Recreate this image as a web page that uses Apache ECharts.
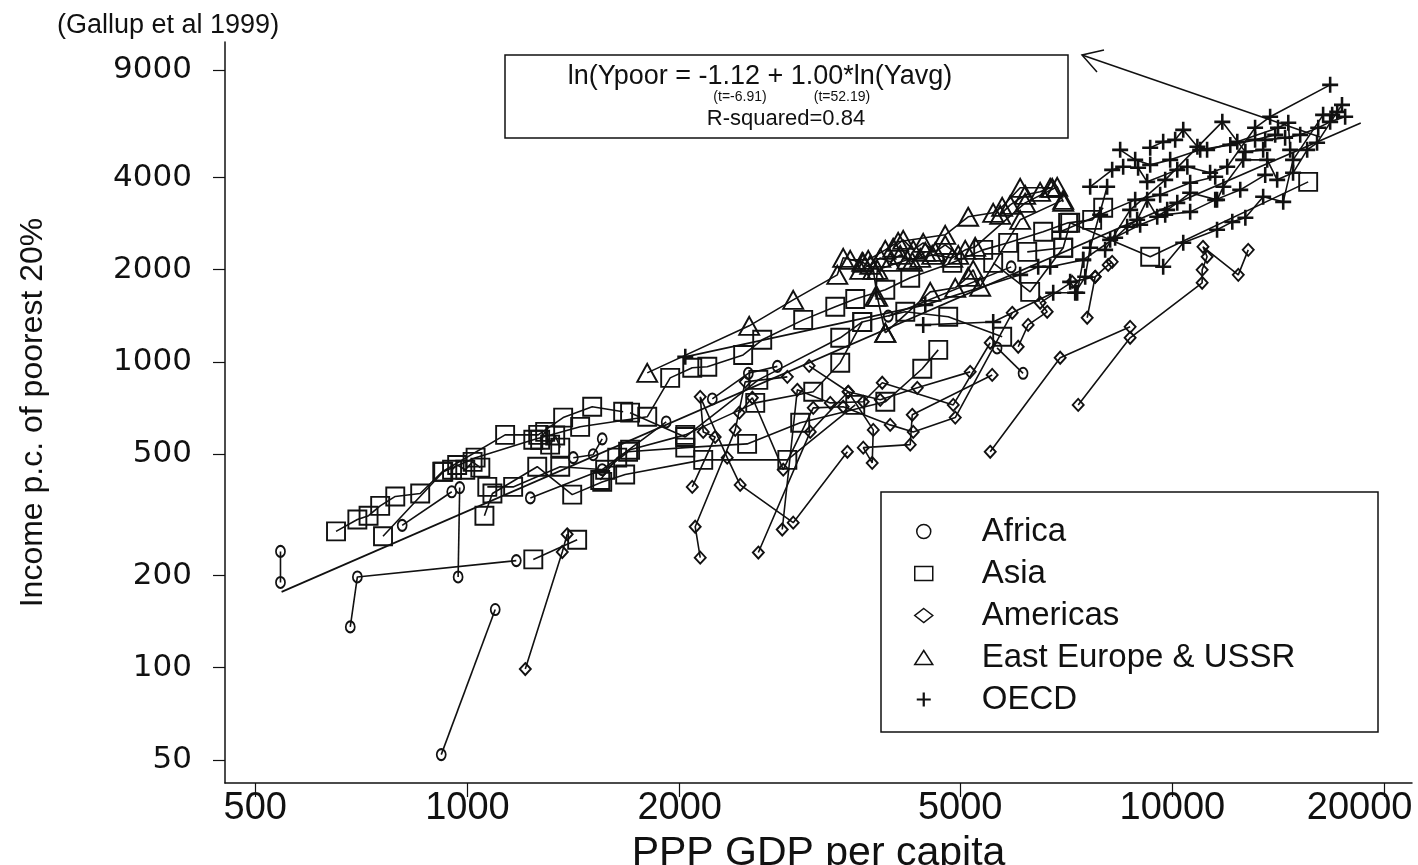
<!DOCTYPE html>
<html>
<head>
<meta charset="utf-8">
<script src="https://cdn.jsdelivr.net/npm/echarts@6.0.0/dist/echarts.min.js"></script>
<style>
  html, body { margin: 0; padding: 0; background: #fff; }
  #chart { width: 1418px; height: 865px; }
</style>
</head>
<body>
<div id="chart"></div>
<script>
// axis ticks
const xTicks = [500, 1000, 2000, 5000, 10000, 20000];
const yTicks = [50, 100, 200, 500, 1000, 2000, 4000, 9000];

// each inner array = one country's path over time [GDP pc, income of poorest 20%]
const africa = [
  [[543,240],[543,190]],
  [[682,136],[698,198],[1173,224]],
  [[970,198],[975,388]],
  [[918,52],[1095,155]],
  [[808,292],[950,376]],
  [[1228,359],[1553,444],[1914,636]],
  [[1413,486],[1508,497],[1553,560]],
  [[2225,756],[2503,917],[2752,966]],
  [[3953,1410],[5906,2043]],
  [[5640,1110],[6140,917]]
];

const asia = [
  [[651,279],[698,305],[724,314],[752,338],[790,363],[857,371],[921,437],[1131,577],[1260,577],[1367,657],[1503,713],[1663,687]],
  [[759,269],[924,437],[1027,486],[1240,556],[1445,613],[1799,661],[1939,886],[2084,956],[2189,963],[2461,1053],[2619,1180],[2994,1371],[3325,1513],[3549,1604],[3915,1719],[4247,1882],[4872,2106],[5390,2322],[5848,2448],[6556,2660],[7113,2846],[7694,2911],[7976,3187]],
  [[1057,314],[1085,371],[1256,454],[1408,368],[1553,405],[1674,428],[2160,478],[2843,478],[3549,723]],
  [[1067,390],[1161,390],[1354,454],[1568,444],[1690,508],[2037,524],[2493,539],[2965,632],[3915,740],[4417,949],[4654,1094]],
  [[1240,226],[1431,262]],
  [[1543,411],[1631,486],[1701,516],[2037,577],[2560,734],[3094,798],[3379,993],[3631,1350],[4179,1457],[4808,1404],[5735,1207]],
  [[1701,682],[2037,568],[2586,873],[3379,1198],[3631,1350]],
  [[6224,2287],[7000,2359],[7161,2847],[9300,2204],[15580,3874]],
  [[5569,2106],[6284,1693],[7000,2359]],
  [[951,444],[967,460],[993,444],[1017,471],[1043,451]],
  [[1268,556],[1289,590],[1310,536],[1332,574],[1354,524]]
];

const americas = [
  [[1208,99],[1363,239],[1385,273]],
  [[2139,229],[2104,289],[2398,599],[2477,860],[2843,893]],
  [[2084,390],[2246,568],[2160,590],[2139,768],[2336,486],[2437,396],[2898,298],[3459,508]],
  [[2586,238],[3064,590],[3468,798],[3851,751],[4346,822],[5166,927]],
  [[2796,283],[2937,810],[3271,734],[3643,740],[3876,854],[4888,723],[5515,1154]],
  [[2430,682],[2536,763],[2805,444],[3094,707],[3412,713],[3978,622],[4289,590],[4920,657],[5926,1446]],
  [[3053,970],[3468,798],[3764,599],[3751,467],[3643,524],[4247,536],[4275,671],[5551,906]],
  [[5515,508],[6931,1031],[8710,1301]],
  [[7351,723],[8710,1198],[11020,1812],[11020,1998],[11200,2204],[11050,2376],[12400,1924],[12810,2322]],
  [[6043,1120],[6242,1320],[6643,1457],[6492,1559],[7208,1825],[7770,1896],[8107,2074],[8214,2122]],
  [[7570,1393],[7770,1896]]
];

const eastEurope = [
  [[1799,920],[2510,1311],[2898,1594],[3347,1924],[3412,2187],[3643,2106]],
  [[3491,2154],[3703,2154],[3915,2322],[4083,2467],[4761,2601],[5132,2979],[5569,3069],[5735,3211],[6082,3705],[6753,3705]],
  [[3789,1631],[3814,1998],[4206,2154],[4388,2186],[4564,2236],[4872,2186],[5083,2322],[5251,2376],[6182,3308],[6864,3733],[7000,3333]],
  [[3915,1244],[4534,1693],[4920,1745],[5132,1896],[5217,1998],[5337,1759],[6082,2911],[7000,3383]],
  [[3631,2122],[3764,1998],[3814,1631],[3915,1244]],
  [[4017,2359],[4151,2504],[4289,2322],[4431,2449],[4609,2287],[4761,2412],[4968,2236]],
  [[3607,1998],[3727,2074],[3851,2186],[3978,2122],[4111,2236],[4275,2122],[4461,2287]],
  [[5698,3023],[5887,3257],[6182,3513],[6492,3594],[6709,3705]]
];

const oecd = [
  [[2037,1038],[4461,1535],[6082,1924],[6451,2044],[6709,2044],[7472,2154]],
  [[4431,1320],[5569,1350],[6775,1681],[7279,1681],[7521,1896],[7644,2359],[8080,3733]],
  [[7161,1825],[7327,1681],[7472,2154],[8294,2544],[8627,2762],[8912,2911],[9209,3383],[9516,2979],[9831,3138],[10160,3308],[10597,3568],[11570,3383],[11810,3733],[12600,4572],[13630,4572],[14080,3933],[14830,4147],[15530,4929],[16040,5197],[17130,6560],[17400,6915]],
  [[7644,3733],[8214,4240],[8514,4339],[8940,4307],[9209,3874],[10160,4240],[10500,4339],[11310,4147],[11960,4339],[13100,5820],[13760,6322],[16740,8040]],
  [[9300,5006],[9703,5235],[10090,5314],[10360,5730],[10850,5043],[11200,4929],[12360,5235],[14120,5820],[14600,6042],[14690,4929]],
  [[9703,2044],[10360,2449],[11570,2700],[12160,2867],[12690,2956],[13450,3462],[14360,3333],[14830,4572],[16360,6414],[16850,6414]],
  [[8027,2322],[8710,3138],[9767,3933],[11770,6086],[12690,4855],[13450,4929]],
  [[13540,5314],[14450,5396],[15180,5518],[16100,5820],[16740,6086],[17580,6322]],
  [[6931,2660],[7898,3023],[8855,3383],[9608,3513],[10597,3846],[11500,4024]],
  [[8160,2504],[9000,2804],[9767,3023],[10597,3091],[11500,3383],[12480,3648],[13540,4083]],
  [[8431,4929],[8855,4572],[9300,4403],[9927,4572],[10950,4929],[12080,5117],[13100,5314],[13990,5518]]
];

// fitted regression ln(Ypoor) = -1.12 + 1.00 ln(Yavg), end points
const fitLine = [[545,177],[18500,6030]];

const PLUS = 'path://M4.2,0H5.8V4.2H10V5.8H5.8V10H4.2V5.8H0V4.2H4.2Z';
const FONT = '"Liberation Sans", Arial, Helvetica, sans-serif';

const REGIONS = [
  { name: 'Africa',             paths: africa,     symbol: 'circle',   size: [9, 11],  icon: 'circle',   fill: 'transparent' },
  { name: 'Asia',               paths: asia,       symbol: 'rect',     size: 18,       icon: 'rect',     fill: 'transparent' },
  { name: 'Americas',           paths: americas,   symbol: 'diamond',  size: [11, 12], icon: 'diamond',  fill: 'transparent' },
  { name: 'East Europe & USSR', paths: eastEurope, symbol: 'triangle', size: [20, 18], icon: 'triangle', fill: 'transparent' },
  { name: 'OECD',               paths: oecd,       symbol: PLUS,       size: 16,       icon: PLUS,       fill: '#111' }
];

const series = [];
for (const r of REGIONS) {
  for (const p of r.paths) {
    series.push({
      type: 'line', name: r.name, data: p,
      symbol: r.symbol, symbolSize: r.size, showSymbol: true,
      lineStyle: { color: '#111', width: 1.6 },
      itemStyle: {
        color: r.fill, borderColor: '#111',
        borderWidth: r.fill === 'transparent' ? 1.9 : 0
      },
      emphasis: { disabled: true }, silent: true, z: 3
    });
  }
}
series.push({
  type: 'line', name: 'fit', data: fitLine, symbol: 'none',
  lineStyle: { color: '#111', width: 1.7 }, silent: true, z: 2
});

const chart = echarts.init(document.getElementById('chart'));
chart.setOption({
  animation: false,
  backgroundColor: '#fff',
  grid: { left: 225, right: 6, top: 42, bottom: 82, outerBoundsMode: 'none', containLabel: false },
  xAxis: {
    type: 'log', logBase: 10, min: 453, max: 21870,
    axisLine: { lineStyle: { color: '#111', width: 1.5 } },
    axisTick: { show: true, customValues: xTicks, length: 14, lineStyle: { color: '#111', width: 1.2 } },
    axisLabel: {
      customValues: xTicks,
      // last label pushed left so it stays inside the picture, as in the original
      formatter: v => Math.round(v) === 20000 ? '{last|20000}' : String(Math.round(v)),
      rich: { last: { fontSize: 38, fontFamily: FONT, color: '#111', padding: [0, 50, 0, 0] } },
      fontSize: 38, fontFamily: FONT, color: '#111', margin: 7, hideOverlap: false
    },
    minorTick: { show: false }, splitLine: { show: false },
    name: 'PPP GDP per capita', nameLocation: 'middle', nameGap: 47,
    nameTextStyle: { fontSize: 41, fontFamily: FONT, color: '#111' }
  },
  yAxis: {
    type: 'log', logBase: 10, min: 42, max: 11100,
    axisLine: { show: true, lineStyle: { color: '#111', width: 1.5 } },
    axisTick: { show: true, customValues: yTicks, length: 12, lineStyle: { color: '#111', width: 1.2 } },
    axisLabel: {
      customValues: yTicks, formatter: v => String(Math.round(v)),
      fontSize: 31, fontFamily: '"DejaVu Sans", sans-serif', color: '#111', margin: 33
    },
    minorTick: { show: false }, splitLine: { show: false },
    name: 'Income p.c. of poorest 20%', nameLocation: 'middle', nameGap: 176, nameRotate: 90,
    nameTextStyle: { fontSize: 32, fontFamily: FONT, color: '#111' }
  },
  legend: {
    orient: 'vertical', left: 909, top: 510, selectedMode: false,
    itemWidth: 18, itemHeight: 14, itemGap: 9,
    textStyle: { fontSize: 33, fontFamily: FONT, color: '#111', lineHeight: 33, padding: [0, 0, 0, 44] },
    data: REGIONS.map(r => ({
      name: r.name, icon: r.icon,
      itemStyle: { color: r.fill, borderColor: '#111', borderWidth: r.fill === 'transparent' ? 1.5 : 0 }
    }))
  },
  graphic: [
    { type: 'text', x: 57, y: 12, style: { text: '(Gallup et al 1999)', font: '27px ' + FONT, fill: '#111' } },
    { type: 'rect', shape: { x: 505, y: 55, width: 563, height: 83 },
      style: { fill: '#fff', stroke: '#111', lineWidth: 1.5 }, z: 10 },
    { type: 'text', x: 760, y: 77, z: 11,
      style: { text: 'ln(Ypoor = -1.12 + 1.00*ln(Yavg)', font: '27px ' + FONT, fill: '#111', align: 'center', verticalAlign: 'middle' } },
    { type: 'text', x: 740, y: 97, z: 11,
      style: { text: '(t=-6.91)', font: '14px ' + FONT, fill: '#111', align: 'center', verticalAlign: 'middle' } },
    { type: 'text', x: 842, y: 97, z: 11,
      style: { text: '(t=52.19)', font: '14px ' + FONT, fill: '#111', align: 'center', verticalAlign: 'middle' } },
    { type: 'text', x: 786, y: 119, z: 11,
      style: { text: 'R-squared=0.84', font: '22px ' + FONT, fill: '#111', align: 'center', verticalAlign: 'middle' } },
    { type: 'polyline', z: 11, shape: { points: [[1320, 137], [1082, 55]] },
      style: { stroke: '#111', lineWidth: 1.5, fill: null } },
    { type: 'polyline', z: 11, shape: { points: [[1104, 50], [1082, 55], [1097, 72]] },
      style: { stroke: '#111', lineWidth: 1.5, fill: null } },
    { type: 'rect', shape: { x: 881, y: 492, width: 497, height: 240 },
      style: { fill: '#fff', stroke: '#111', lineWidth: 1.5 }, z: 0 }
  ],
  series
});
</script>
</body>
</html>
